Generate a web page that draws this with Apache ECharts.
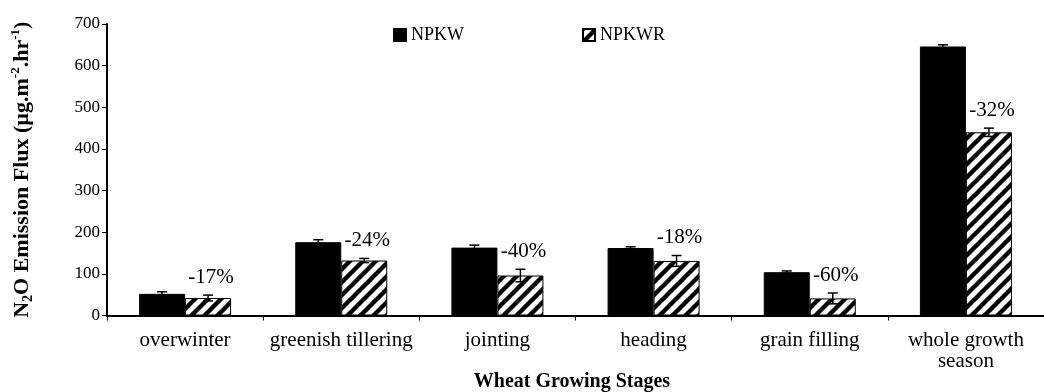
<!DOCTYPE html>
<html>
<head>
<meta charset="utf-8">
<script src="https://cdn.jsdelivr.net/npm/echarts@6/dist/echarts.min.js"></script>
<style>
  html, body { margin: 0; padding: 0; background: #fff; }
  #chart { width: 1044px; height: 392px; }
</style>
</head>
<body>
<div id="chart"></div>
<script>
// Wheat growing stages and N2O emission flux (µg·m⁻²·hr⁻¹)
const categories = ['overwinter', 'greenish tillering', 'jointing', 'heading', 'grain filling', 'whole growth\nseason'];
const npkw      = [52, 176, 163, 162, 104, 646];
const npkwErr   = [5, 6, 6, 3, 3, 4];
const npkwr     = [42, 132, 96, 131, 41, 440];
const npkwrErr  = [7, 5, 15, 13, 13, 10];
const reductionLabels = ['-17%', '-24%', '-40%', '-18%', '-60%', '-32%'];

const FONT = '"Liberation Serif", "Times New Roman", serif';
const BAR_W = 46;

// diagonal hatch used to fill the NPKWR bars
function hatchPattern() {
  const s = 13;
  const c = document.createElement('canvas');
  c.width = s; c.height = s;
  const g = c.getContext('2d');
  g.fillStyle = '#fff';
  g.fillRect(0, 0, s, s);
  g.strokeStyle = '#000';
  g.lineWidth = 4.4;
  g.beginPath();
  g.moveTo(-s, 2 * s); g.lineTo(2 * s, -s);
  g.moveTo(-s, s);     g.lineTo(s, -s);
  g.moveTo(0, 2 * s);  g.lineTo(2 * s, 0);
  g.stroke();
  return c;
}

// error bars (and optional reduction labels) drawn over a bar series
function errorSeries(values, errs, side, labels) {
  return {
    type: 'custom',
    silent: true,
    z: 10,
    data: values.map((v, i) => [i, v, errs[i]]),
    renderItem(params, api) {
      const i = api.value(0), v = api.value(1), e = api.value(2);
      const x = api.coord([i, v])[0] + side * BAR_W / 2;
      const hi = api.coord([i, v + e])[1];
      const lo = api.coord([i, v - e])[1];
      const cap = 5;
      const st = { stroke: '#000', lineWidth: 1.5 };
      const children = [
        { type: 'line', shape: { x1: x, y1: hi, x2: x, y2: lo }, style: st },
        { type: 'line', shape: { x1: x - cap, y1: hi, x2: x + cap, y2: hi }, style: st },
        { type: 'line', shape: { x1: x - cap, y1: lo, x2: x + cap, y2: lo }, style: st }
      ];
      if (labels) {
        children.push({
          type: 'text',
          style: {
            x: x + 3, y: hi - 18,
            text: labels[params.dataIndex],
            align: 'center', verticalAlign: 'middle',
            font: '21px ' + FONT, fill: '#000'
          }
        });
      }
      return { type: 'group', children };
    }
  };
}

const chart = echarts.init(document.getElementById('chart'), null, { renderer: 'canvas' });
const hatch = { image: hatchPattern(), repeat: 'repeat' };

chart.setOption({
  animation: false,
  backgroundColor: '#fff',
  textStyle: { fontFamily: FONT, color: '#000' },
  grid: { left: 107, right: -8, top: 24, bottom: 76.5, containLabel: false },
  title: {
    text: 'Wheat Growing Stages',
    left: 572, top: 372, textAlign: 'center', padding: 0,
    textStyle: { fontFamily: FONT, fontWeight: 'bold', fontSize: 20, color: '#000' }
  },
  legend: {
    data: ['NPKW', 'NPKWR'],
    left: 393, top: 26, padding: 0,
    itemWidth: 12, itemHeight: 12, itemGap: 118,
    icon: 'rect',
    textStyle: { fontFamily: FONT, fontSize: 18, color: '#000' }
  },
  xAxis: {
    type: 'category',
    data: categories,
    axisLine: { lineStyle: { color: '#000', width: 2 } },
    axisTick: { show: true, length: 5, lineStyle: { color: '#000', width: 1 } },
    axisLabel: { fontFamily: FONT, fontSize: 21, color: '#000', margin: 14, lineHeight: 21, interval: 0 },
    splitLine: { show: false }
  },
  yAxis: {
    type: 'value',
    min: 0, max: 700, interval: 100,
    name: 'N{sub|2}O Emission Flux (µg.m{sup|-2}.hr{sup|-1})',
    nameLocation: 'middle',
    nameRotate: 90,
    nameGap: 72,
    nameTextStyle: {
      fontFamily: FONT, fontWeight: 'bold', fontSize: 22, color: '#000', lineHeight: 26,
      rich: {
        sub: { fontFamily: FONT, fontWeight: 'bold', fontSize: 14, color: '#000', verticalAlign: 'bottom', lineHeight: 26, padding: [7, 0, 0, 0] },
        sup: { fontFamily: FONT, fontWeight: 'bold', fontSize: 13, color: '#000', verticalAlign: 'top', lineHeight: 26, padding: [0, 0, 7, 0] }
      }
    },
    axisLine: { show: true, lineStyle: { color: '#000', width: 2 } },
    axisTick: { show: true, length: 5, lineStyle: { color: '#000', width: 1 } },
    axisLabel: { fontFamily: FONT, fontSize: 17, color: '#000', margin: 7 },
    splitLine: { show: false }
  },
  series: [
    {
      name: 'NPKW', type: 'bar', data: npkw,
      barWidth: BAR_W, barGap: '0%',
      itemStyle: { color: '#000', borderColor: '#000', borderWidth: 1 }
    },
    {
      name: 'NPKWR', type: 'bar', data: npkwr,
      barWidth: BAR_W, barGap: '0%',
      itemStyle: { color: hatch, borderColor: '#000', borderWidth: 1 }
    },
    errorSeries(npkw, npkwErr, -1, null),
    errorSeries(npkwr, npkwrErr, 1, reductionLabels)
  ]
});
</script>
</body>
</html>
